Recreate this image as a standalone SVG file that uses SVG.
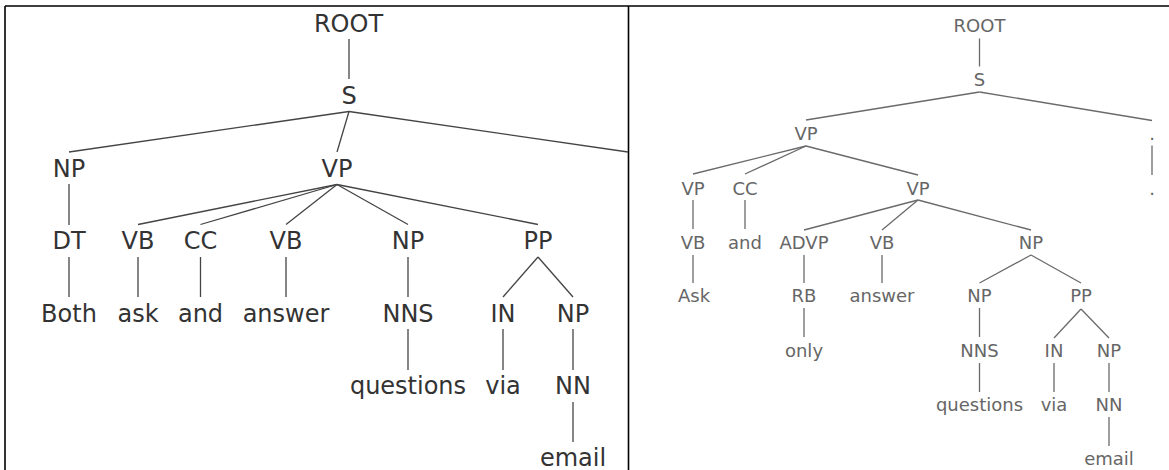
<svg xmlns="http://www.w3.org/2000/svg" width="1169" height="470" viewBox="0 0 1169 470">
<style>
.l text{font-family:"DejaVu Sans",sans-serif;font-size:24px;fill:#333;text-anchor:middle}
.r text{font-family:"DejaVu Sans",sans-serif;font-size:18px;fill:#666;text-anchor:middle}
.lc line{stroke:#444;stroke-width:1.3}
.rc line{stroke:#6a6a6a;stroke-width:1.3}
.frame line{stroke:#000;stroke-width:1.6}
</style>
<rect width="1169" height="470" fill="#fff"/>
<g class="frame">
<line x1="5" y1="6" x2="1169" y2="6"/>
<line x1="5" y1="6" x2="5" y2="470"/>
<line x1="628.5" y1="6" x2="628.5" y2="470"/>
</g>
<g id="left-connectors" class="lc">
<line x1="349" y1="39" x2="349" y2="79"/>
<line x1="349" y1="111.5" x2="69" y2="152"/>
<line x1="349" y1="111.5" x2="337" y2="152"/>
<line x1="349" y1="111.5" x2="628" y2="152"/>
<line x1="69" y1="184" x2="69" y2="225"/>
<line x1="337" y1="184.5" x2="138" y2="224.5"/>
<line x1="337" y1="184.5" x2="200.5" y2="224.5"/>
<line x1="337" y1="184.5" x2="286" y2="224.5"/>
<line x1="337" y1="184.5" x2="408" y2="224.5"/>
<line x1="337" y1="184.5" x2="538" y2="224.5"/>
<line x1="69" y1="257" x2="69" y2="297"/>
<line x1="138" y1="257" x2="138" y2="297"/>
<line x1="200.5" y1="257" x2="200.5" y2="297"/>
<line x1="286" y1="257" x2="286" y2="297"/>
<line x1="408" y1="257" x2="408" y2="297"/>
<line x1="538" y1="257" x2="503" y2="297"/>
<line x1="538" y1="257" x2="573" y2="297"/>
<line x1="408" y1="329" x2="408" y2="370"/>
<line x1="503" y1="329" x2="503" y2="370"/>
<line x1="573" y1="329" x2="573" y2="370"/>
<line x1="573" y1="402" x2="573" y2="442"/>
</g>
<g class="l">
<g id="l-root"><text x="348.5" y="32">ROOT</text></g>
<g id="l-s"><text x="349" y="104">S</text></g>
<g id="l-np1"><text x="69" y="176.5">NP</text></g>
<g id="l-vp1"><text x="337" y="176.5">VP</text></g>
<g id="l-dt"><text x="69" y="249">DT</text></g>
<g id="l-vb1"><text x="138" y="249">VB</text></g>
<g id="l-cc"><text x="200.5" y="249">CC</text></g>
<g id="l-vb2"><text x="286" y="249">VB</text></g>
<g id="l-np2"><text x="408" y="249">NP</text></g>
<g id="l-pp"><text x="538" y="249">PP</text></g>
<g id="l-both"><text x="69" y="321.5">Both</text></g>
<g id="l-ask"><text x="138" y="321.5">ask</text></g>
<g id="l-and"><text x="200.5" y="321.5">and</text></g>
<g id="l-answer"><text x="286" y="321.5">answer</text></g>
<g id="l-nns"><text x="408" y="321.5">NNS</text></g>
<g id="l-in"><text x="503" y="321.5">IN</text></g>
<g id="l-np3"><text x="573" y="321.5">NP</text></g>
<g id="l-questions"><text x="408" y="394">questions</text></g>
<g id="l-via"><text x="503" y="394">via</text></g>
<g id="l-nn"><text x="573" y="394">NN</text></g>
<g id="l-email"><text x="573" y="465.5">email</text></g>
</g>
<g id="right-connectors" class="rc">
<line x1="979.5" y1="38.5" x2="979.5" y2="66.5"/>
<line x1="979.5" y1="92" x2="806" y2="120"/>
<line x1="979.5" y1="92" x2="1152" y2="120.5"/>
<line x1="1152" y1="145.5" x2="1152" y2="175"/>
<line x1="806" y1="146" x2="693" y2="174"/>
<line x1="806" y1="146" x2="745" y2="174"/>
<line x1="806" y1="146" x2="918" y2="175"/>
<line x1="693" y1="200" x2="693" y2="229"/>
<line x1="745" y1="200" x2="745" y2="229"/>
<line x1="918" y1="200" x2="804" y2="230"/>
<line x1="918" y1="200" x2="882" y2="230"/>
<line x1="918" y1="200" x2="1031" y2="230"/>
<line x1="693" y1="255" x2="693" y2="283"/>
<line x1="804" y1="255" x2="804" y2="283"/>
<line x1="882" y1="255" x2="882" y2="283"/>
<line x1="1031" y1="255" x2="979.5" y2="283"/>
<line x1="1031" y1="255" x2="1081" y2="283"/>
<line x1="804" y1="308" x2="804" y2="337"/>
<line x1="979.5" y1="308" x2="979.5" y2="337"/>
<line x1="1081" y1="309" x2="1054" y2="338"/>
<line x1="1081" y1="309" x2="1109" y2="338"/>
<line x1="979.5" y1="363" x2="979.5" y2="392"/>
<line x1="1054" y1="363" x2="1054" y2="392"/>
<line x1="1109" y1="363" x2="1109" y2="392"/>
<line x1="1109" y1="417" x2="1109" y2="446"/>
</g>
<g class="r">
<g id="r-root"><text x="979.5" y="32">ROOT</text></g>
<g id="r-s"><text x="979.5" y="86">S</text></g>
<g id="r-vp1"><text x="806" y="140">VP</text></g>
<g id="r-dot-tag"><text x="1152" y="140">.</text></g>
<g id="r-vp2"><text x="693" y="194.5">VP</text></g>
<g id="r-cc"><text x="745" y="194.5">CC</text></g>
<g id="r-vp3"><text x="918" y="194.5">VP</text></g>
<g id="r-dot"><text x="1152" y="194.5">.</text></g>
<g id="r-vb1"><text x="693" y="248.5">VB</text></g>
<g id="r-and"><text x="745" y="248.5">and</text></g>
<g id="r-advp"><text x="804" y="248.5">ADVP</text></g>
<g id="r-vb2"><text x="882" y="248.5">VB</text></g>
<g id="r-np1"><text x="1031" y="248.5">NP</text></g>
<g id="r-ask"><text x="694" y="302">Ask</text></g>
<g id="r-rb"><text x="804" y="302">RB</text></g>
<g id="r-answer"><text x="882" y="302">answer</text></g>
<g id="r-np2"><text x="979.5" y="302">NP</text></g>
<g id="r-pp"><text x="1081" y="302">PP</text></g>
<g id="r-only"><text x="804" y="356.5">only</text></g>
<g id="r-nns"><text x="979.5" y="356.5">NNS</text></g>
<g id="r-in"><text x="1054" y="356.5">IN</text></g>
<g id="r-np3"><text x="1109" y="356.5">NP</text></g>
<g id="r-questions"><text x="979.5" y="410.5">questions</text></g>
<g id="r-via"><text x="1054" y="410.5">via</text></g>
<g id="r-nn"><text x="1109" y="410.5">NN</text></g>
<g id="r-email"><text x="1109" y="465">email</text></g>
</g>
</svg>
